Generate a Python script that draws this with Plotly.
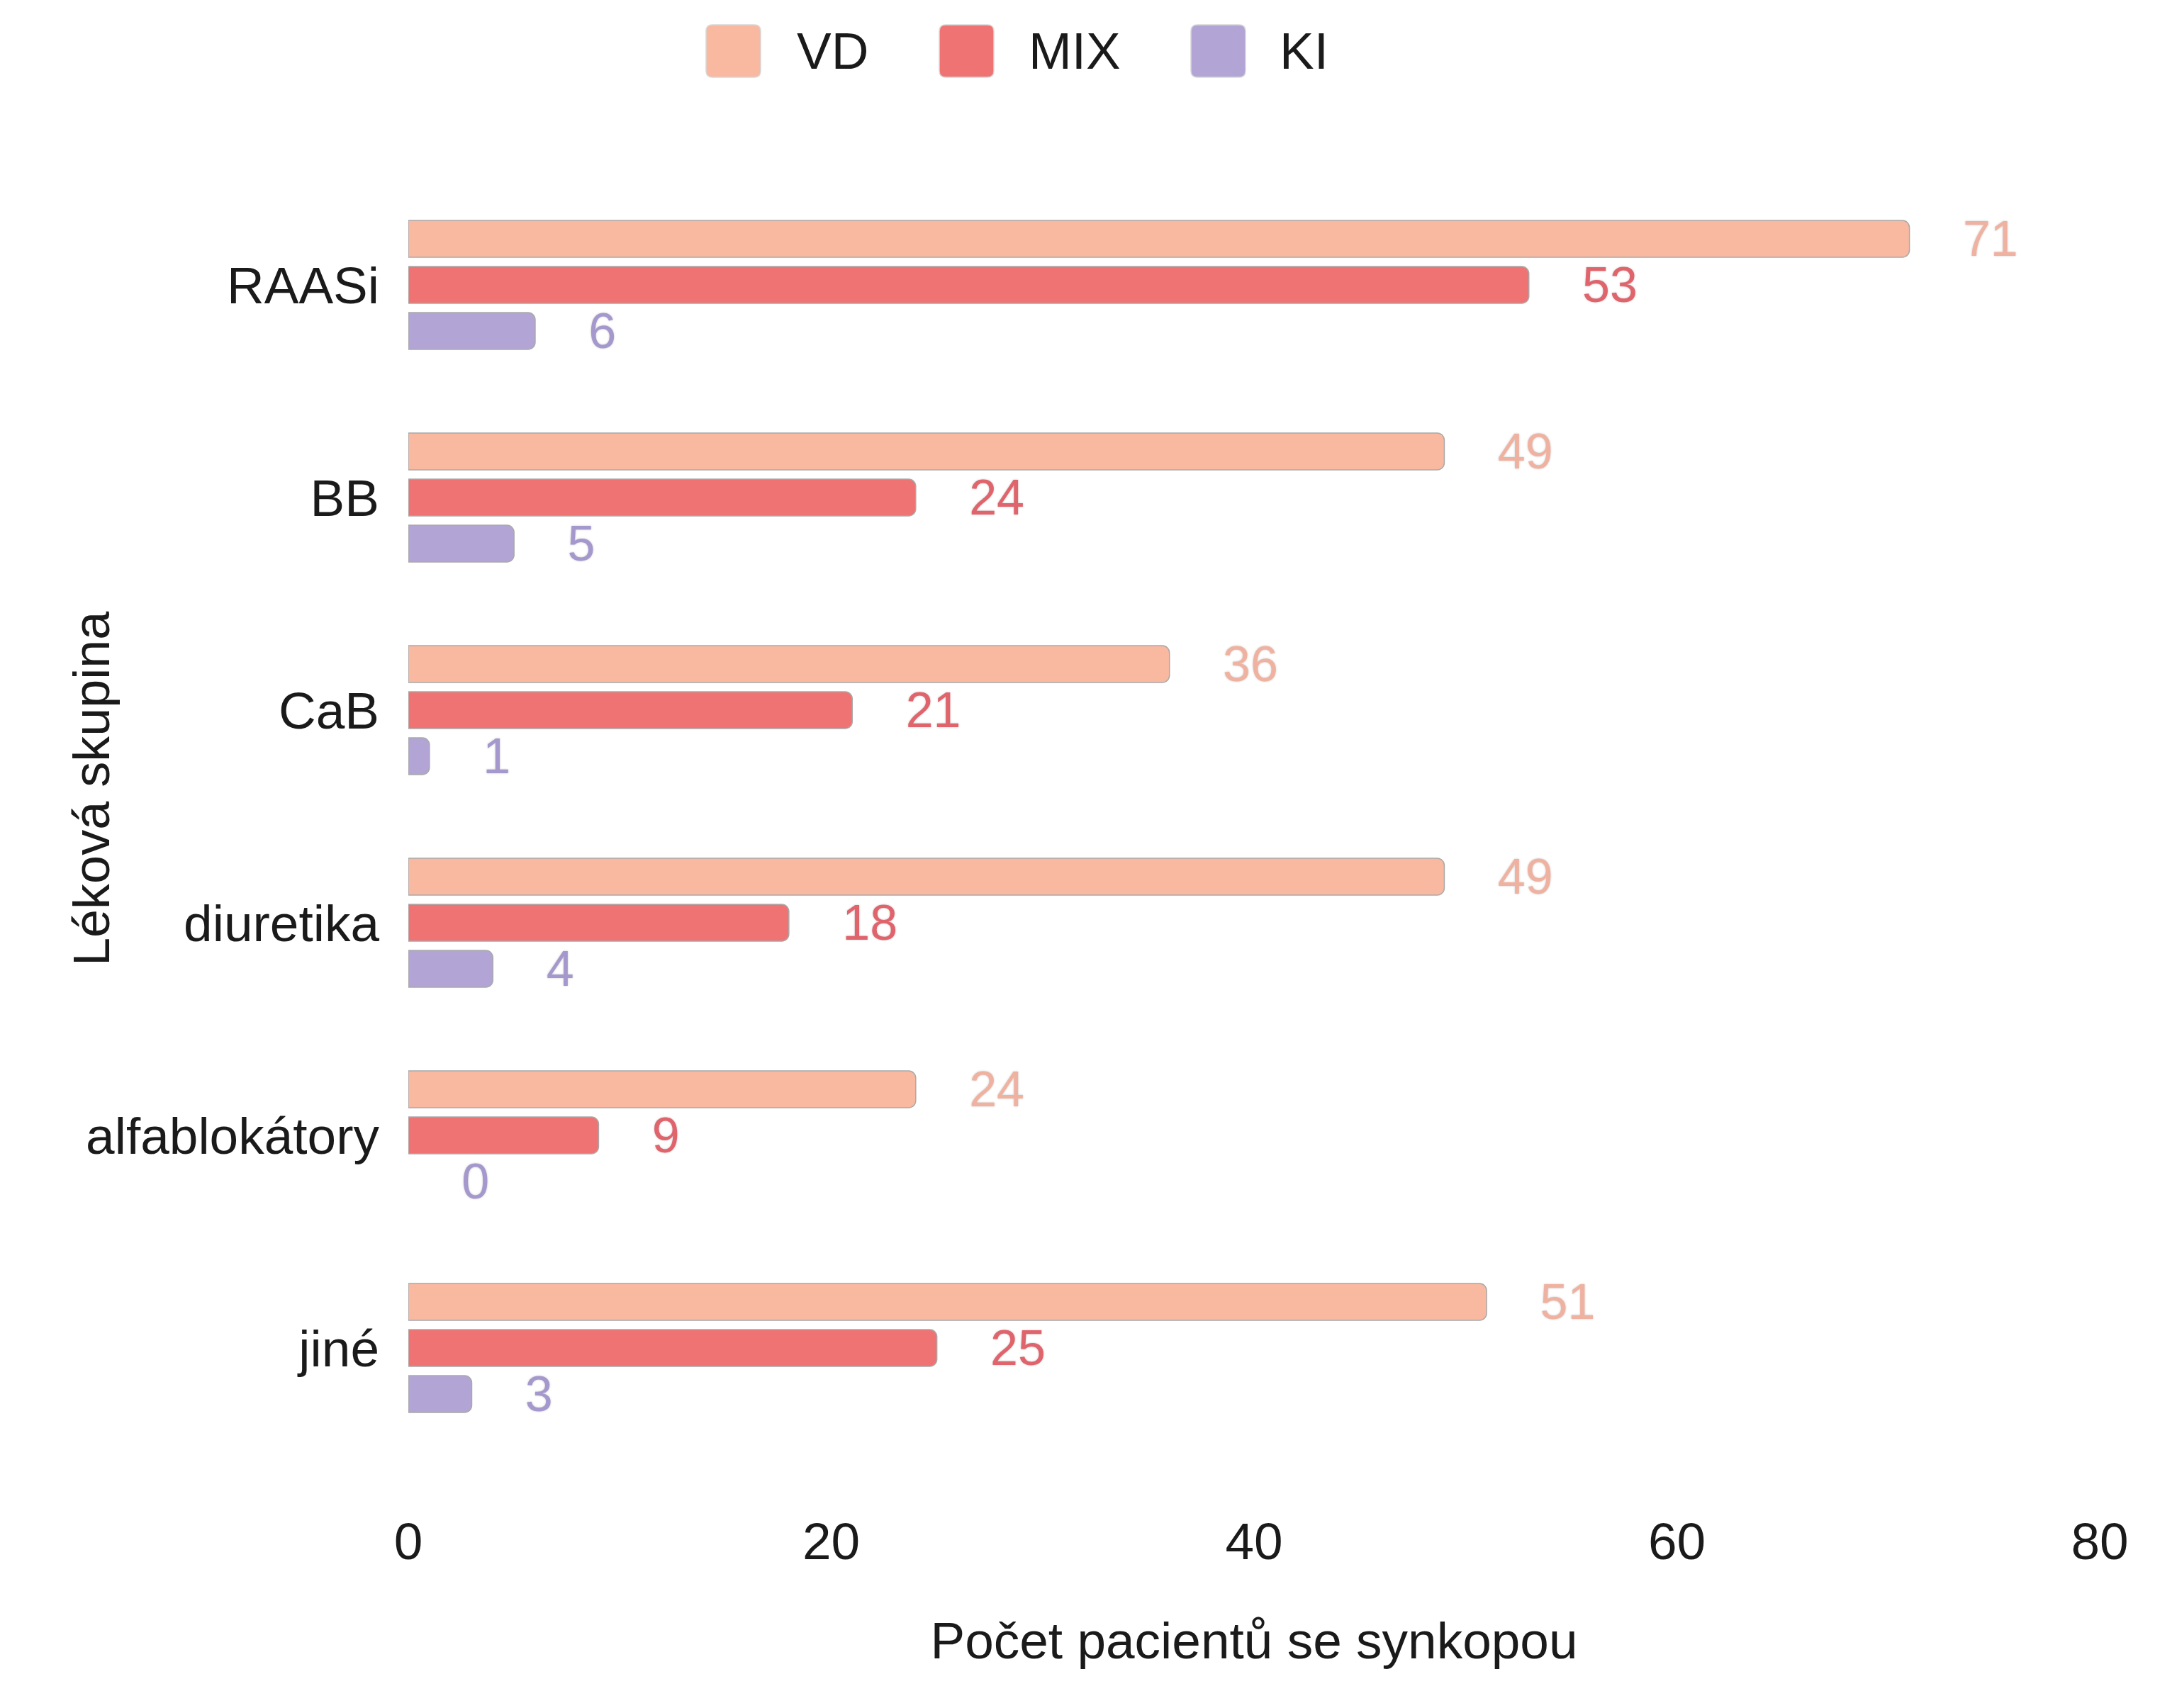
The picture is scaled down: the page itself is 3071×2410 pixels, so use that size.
import plotly.graph_objects as go

# ---- data ----
categories = ["RAASi", "BB", "CaB", "diuretika", "alfablokátory", "jiné"]
series_names = ["VD", "MIX", "KI"]
vd_values = [71, 49, 36, 49, 24, 51]
mix_values = [53, 24, 21, 18, 9, 25]
ki_values = [6, 5, 1, 4, 0, 3]
x_ticks = [0, 20, 40, 60, 80]
x_title = "Počet pacientů se synkopou"
y_title = "Léková skupina"

# ---- style ----
bar_colors = ["#f9b9a0", "#ef7373", "#b2a5d6"]
label_colors = ["#f0b2a0", "#e0646c", "#a598cd"]
FONT = "Liberation Sans, Arial, Helvetica, sans-serif"
FS = 73
LFS = 70
OFF = 8  # browser body margin
W, H = 3071 - 2 * OFF, 2410 - 2 * OFF
PW, PH = 2386, 1800
ML, MT = 576 - OFF, 252 - OFF
MR = W - ML - PW
MB = H - MT - PH

fig = go.Figure()
for name, vals, col, lcol in zip(series_names, [vd_values, mix_values, ki_values], bar_colors, label_colors):
    fig.add_trace(go.Bar(
        name=name,
        y=categories,
        x=vals,
        orientation="h",
        marker=dict(color=col,
                    line=dict(color="#a9a9a9", width=[1.5 if v > 0 else 0 for v in vals]),
                    cornerradius=10),
        text=vals,
        texttemplate="\u00a0\u00a0\u00a0\u2009%{x}",
        textposition="outside",
        constraintext="none",
        cliponaxis=False,
        textfont=dict(family=FONT, size=LFS, color=lcol, shadow="0px 0px 3px rgba(0,0,0,0.22)"),
        showlegend=False,
        hoverinfo="x+y+name",
    ))


def px_to_paper_x(px):
    return (px - OFF - ML) / PW


def px_to_paper_y(py):
    return (MT + PH - (py - OFF)) / PH


def rounded_rect(x0, y0, x1, y1, r):
    X = px_to_paper_x
    Y = px_to_paper_y
    return (
        f"M {X(x0 + r)} {Y(y0)} L {X(x1 - r)} {Y(y0)} Q {X(x1)} {Y(y0)} {X(x1)} {Y(y0 + r)} "
        f"L {X(x1)} {Y(y1 - r)} Q {X(x1)} {Y(y1)} {X(x1 - r)} {Y(y1)} "
        f"L {X(x0 + r)} {Y(y1)} Q {X(x0)} {Y(y1)} {X(x0)} {Y(y1 - r)} "
        f"L {X(x0)} {Y(y0 + r)} Q {X(x0)} {Y(y0)} {X(x0 + r)} {Y(y0)} Z"
    )


# manual legend (large swatches); positions in reference-screen pixels
legend_swatch_left = [996, 1325, 1680]
legend_text_left = [1122, 1449, 1803]
shapes = []
annotations = []
for name, col, sx, tx in zip(series_names, bar_colors, legend_swatch_left, legend_text_left):
    shapes.append(dict(type="path", xref="paper", yref="paper",
                       path=rounded_rect(sx, 35, sx + 77, 109, 9),
                       fillcolor=col, line=dict(color="#d8d8d8", width=1.5)))
    annotations.append(dict(xref="paper", yref="paper", x=px_to_paper_x(tx), y=px_to_paper_y(72),
                            xanchor="left", yanchor="middle", text=name, showarrow=False,
                            font=dict(family=FONT, size=FS, color="#1a1a1a")))

annotations.append(dict(xref="paper", yref="paper", x=px_to_paper_x(129), y=px_to_paper_y(1113),
                        xanchor="center", yanchor="middle", text=y_title, textangle=-90,
                        showarrow=False, font=dict(family=FONT, size=FS - 1, color="#1a1a1a")))

fig.update_layout(
    width=W, height=H,
    margin=dict(l=ML, r=MR, t=MT, b=MB, autoexpand=False),
    paper_bgcolor="white", plot_bgcolor="white",
    barmode="group", bargap=0.35, bargroupgap=0.2,
    showlegend=False,
    font=dict(family=FONT, size=FS, color="#1a1a1a"),
    shapes=shapes,
    annotations=annotations,
    xaxis=dict(range=[0, 80], tickvals=x_ticks, ticktext=[str(t) for t in x_ticks],
               showgrid=False, zeroline=False, showline=False, ticks="",
               ticklabelstandoff=74, automargin=False,
               tickfont=dict(family=FONT, size=FS, color="#1a1a1a"),
               title=dict(text=x_title, standoff=74, font=dict(family=FONT, size=FS, color="#1a1a1a"))),
    yaxis=dict(categoryorder="array", categoryarray=categories, autorange="reversed",
               showgrid=False, zeroline=False, showline=False, ticks="",
               ticklabelstandoff=40, automargin=False,
               tickfont=dict(family=FONT, size=FS, color="#1a1a1a")),
)

fig.write_html("out.html")
